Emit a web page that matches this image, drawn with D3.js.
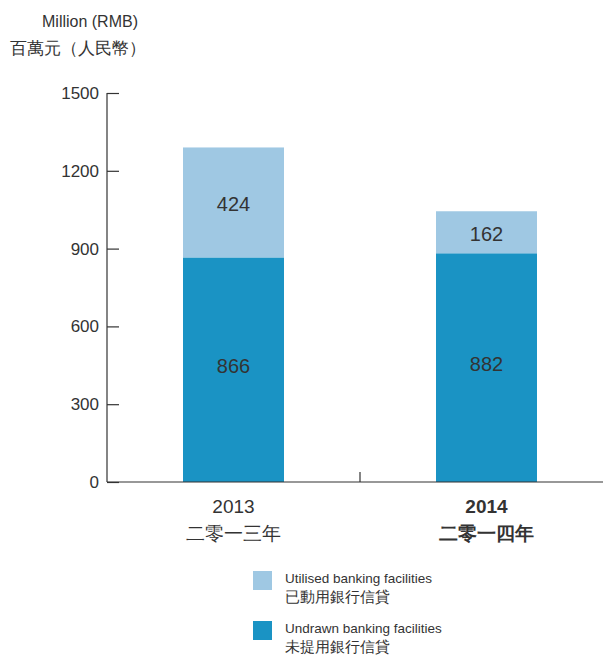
<!DOCTYPE html>
<meta charset="utf-8">
<script src="https://cdn.jsdelivr.net/npm/d3@7"></script>
<style>
  body { margin: 0; background: #fff; }
  text { fill: #333; font-family: "Liberation Sans", Arial, sans-serif; }
  .axis line, .axis path { stroke: #333; stroke-width: 1.2px; fill: none; }
</style>
<body>
<script>

var years = ["2013", "2014"];
var yearsZh = ["二零一三年", "二零一四年"];
var undrawn = [866, 882];
var utilised = [424, 162];
var yTicks = [0, 300, 600, 900, 1200, 1500];
var legendEn = ["Utilised banking facilities", "Undrawn banking facilities"];
var legendZh = ["已動用銀行信貸", "未提用銀行信貸"];

var width = 603, height = 655;
var colorDark = "#1a93c4", colorLight = "#9fc8e3";

var svg = d3.select("body").append("svg")
    .attr("width", width)
    .attr("height", height);

var x = d3.scaleBand().domain(years).range([107, 613]).paddingInner(0).paddingOuter(0);
var y = d3.scaleLinear().domain([0, 1500]).range([482, 93]);
var barW = 101;

// axis title
svg.append("text").attr("x", 138).attr("y", 27).attr("text-anchor", "end")
    .style("font-size", "16px").text("Million (RMB)");
svg.append("text").attr("x", 10).attr("y", 54)
    .style("font-size", "17px").text("百萬元（人民幣）");

// bars
var g = svg.append("g");
years.forEach(function(yr, i) {
  var cx = x(yr) + x.bandwidth() / 2;
  g.append("rect")
      .attr("x", cx - barW / 2).attr("width", barW)
      .attr("y", y(undrawn[i])).attr("height", y(0) - y(undrawn[i]))
      .attr("fill", colorDark);
  g.append("rect")
      .attr("x", cx - barW / 2).attr("width", barW)
      .attr("y", y(undrawn[i] + utilised[i])).attr("height", y(undrawn[i]) - y(undrawn[i] + utilised[i]))
      .attr("fill", colorLight);
  g.append("text").attr("x", cx).attr("y", y(undrawn[i] / 2) + 3)
      .attr("text-anchor", "middle").style("font-size", "20px").text(undrawn[i]);
  g.append("text").attr("x", cx).attr("y", y(undrawn[i] + utilised[i] / 2) + 9)
      .attr("text-anchor", "middle").style("font-size", "20px").text(utilised[i]);
});

// y axis
var yAxis = d3.axisRight(y).tickValues(yTicks).tickSize(12).tickFormat("");
svg.append("g").attr("class", "axis").attr("transform", "translate(107,0)")
    .call(yAxis)
    .call(function(s) { s.select(".domain").attr("d", "M0," + y(1500) + "V" + y(0)); });
yTicks.forEach(function(t) {
  svg.append("text").attr("x", 99).attr("y", y(t) + 6)
      .attr("text-anchor", "end").style("font-size", "17px").text(t);
});

// baseline with category dividers
var ax = svg.append("g").attr("class", "axis");
ax.append("line").attr("x1", 107).attr("x2", 613).attr("y1", y(0)).attr("y2", y(0));
[x("2014"), x.range()[1] - 1].forEach(function(d) {
  ax.append("line").attr("x1", d).attr("x2", d).attr("y1", y(0)).attr("y2", y(0) - 10);
});

// x labels
years.forEach(function(yr, i) {
  var cx = x(yr) + x.bandwidth() / 2;
  svg.append("text").attr("x", cx).attr("y", 513).attr("text-anchor", "middle")
      .style("font-size", "19px").style("font-weight", i == 1 ? 700 : 400).text(yr);
  svg.append("text").attr("x", cx).attr("y", 540).attr("text-anchor", "middle")
      .style("font-size", "19px").style("font-weight", i == 1 ? 700 : 400).text(yearsZh[i]);
});

// legend
var legendColors = [colorLight, colorDark];
legendEn.forEach(function(t, i) {
  var ly = 571 + i * 50;
  svg.append("rect").attr("x", 253).attr("y", ly).attr("width", 19).attr("height", 19)
      .attr("fill", legendColors[i]);
  svg.append("text").attr("x", 285).attr("y", ly + 12).style("font-size", "13.5px").text(t);
  svg.append("text").attr("x", 285).attr("y", ly + 31).style("font-size", "15px").text(legendZh[i]);
});

</script>
</body>
